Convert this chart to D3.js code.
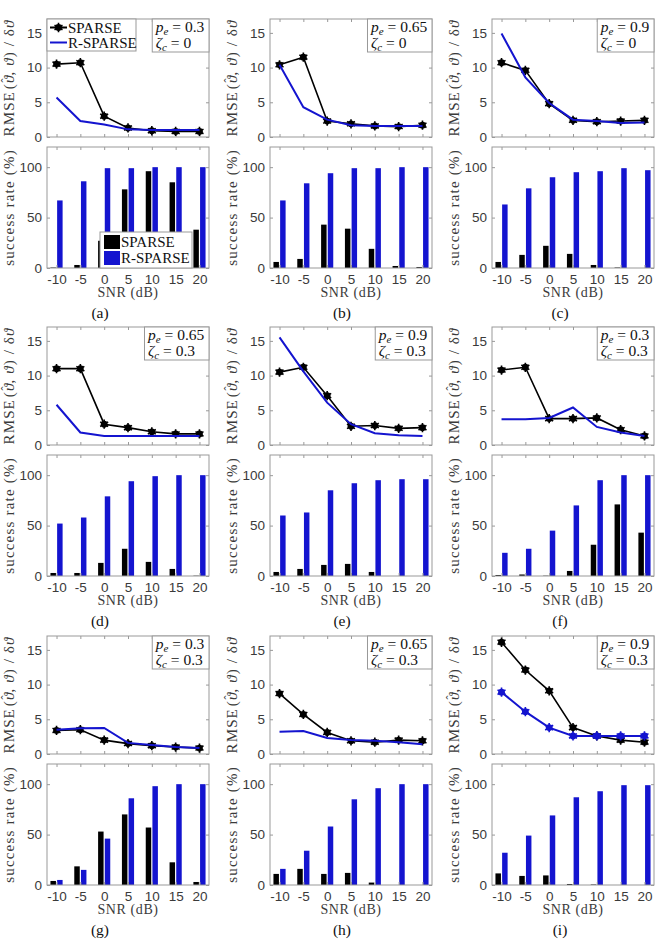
<!DOCTYPE html>
<html>
<head>
<meta charset="utf-8">
<script src="https://cdn.jsdelivr.net/npm/d3@7/dist/d3.min.js"></script>
<style>
  body { margin: 0; background: #fff; }
  svg { display: block; }
</style>
</head>
<body>
<svg id="chart"></svg>
<script>
// data
var snr = [-10, -5, 0, 5, 10, 15, 20];
var panelIds = ["a", "b", "c", "d", "e", "f", "g", "h", "i"];
var peValues = ["0.3", "0.65", "0.9", "0.65", "0.9", "0.3", "0.3", "0.65", "0.9"];
var zetaValues = ["0", "0", "0", "0.3", "0.3", "0.3", "0.3", "0.3", "0.3"];
var rmseTicks = [0, 5, 10, 15];
var rateTicks = [0, 50, 100];

var rmseSparse = [
  [10.5, 10.7, 3.0, 1.3, 0.9, 0.8, 0.8],
  [10.4, 11.5, 2.3, 1.9, 1.6, 1.5, 1.7],
  [10.7, 9.6, 4.8, 2.4, 2.2, 2.3, 2.4],
  [11.0, 11.0, 3.0, 2.5, 1.9, 1.6, 1.6],
  [10.5, 11.2, 7.1, 2.7, 2.8, 2.4, 2.5],
  [10.8, 11.2, 3.8, 3.8, 3.9, 2.2, 1.3],
  [3.4, 3.5, 2.0, 1.5, 1.2, 1.0, 0.85],
  [8.7, 5.7, 3.1, 1.9, 1.7, 2.0, 1.9],
  [16.1, 12.1, 9.1, 3.8, 2.6, 2.0, 1.7]
];
var rmseRSparse = [
  [5.7, 2.3, 1.8, 1.1, 1.0, 1.0, 1.0],
  [10.4, 4.3, 2.5, 1.7, 1.6, 1.6, 1.6],
  [14.9, 8.6, 4.9, 2.5, 2.3, 2.0, 2.1],
  [5.8, 1.8, 1.3, 1.3, 1.3, 1.3, 1.3],
  [15.5, 10.6, 6.1, 3.0, 1.7, 1.4, 1.3],
  [3.7, 3.7, 3.9, 5.4, 2.6, 1.8, 1.3],
  [3.5, 3.7, 3.75, 1.6, 1.3, 1.0, 0.85],
  [3.2, 3.3, 2.3, 2.0, 1.9, 1.7, 1.4],
  [8.9, 6.1, 3.8, 2.6, 2.6, 2.6, 2.6]
];
var rateSparse = [
  [0.5, 3, 27, 78, 96, 85, 38],
  [6, 9, 43, 39, 19, 2, 1],
  [6, 13, 22, 14, 3, 0.5, 0],
  [3, 3, 13, 27, 14, 7, 0.3],
  [4, 7, 11, 12, 4, 0, 0],
  [1, 1.5, 0.3, 5, 31, 71, 43],
  [4, 18.5, 53, 70, 57, 22.5, 3],
  [11, 16, 11, 12, 2.4, 0, 0],
  [11.5, 9, 9.5, 1, 0.5, 0, 0]
];
var rateRSparse = [
  [67, 86, 99, 99, 100, 100, 100],
  [67, 84, 94, 99, 99, 100, 100],
  [63, 79, 90, 95, 96, 99, 97],
  [52, 58, 79, 94, 99, 100, 100],
  [60, 63, 85, 92, 95, 96, 96],
  [23, 27, 45, 70, 95, 100, 100],
  [5, 15, 46, 86, 98, 100, 100],
  [16, 34, 58, 85, 96, 100, 100],
  [32, 49, 69, 87, 93, 99, 99]
];

// layout
var width = 663, height = 949;
var colLeft = [47, 270, 492], rowTop = [19, 327, 636];
var boxW = 162, lineH = 118, gapH = 10, barH = 121;
var captionX = [100, 342, 560];
var black = "#000", blue = "#1414cf", boxColor = "#999", textColor = "#3a3a3a";
var serif = "'Liberation Serif', 'DejaVu Serif', serif";
var sans = "'Liberation Sans', Arial, sans-serif";

var svg = d3.select("#chart").attr("width", width).attr("height", height);

function boxAxes(g, x, y, yTicks, showX) {
  var x0 = x.range()[0], x1 = x.range()[1];
  var y0 = y.range()[0], y1 = y.range()[1];
  g.append("g").attr("transform", "translate(" + x0 + ",0)")
    .call(d3.axisLeft(y).tickValues(yTicks).tickSize(-3).tickSizeOuter(0).tickPadding(5));
  g.append("g").attr("transform", "translate(" + x1 + ",0)")
    .call(d3.axisRight(y).tickValues(yTicks).tickSize(-3).tickSizeOuter(0).tickFormat(""));
  g.append("g").attr("transform", "translate(0," + y0 + ")")
    .call(d3.axisBottom(x).tickValues(snr).tickSize(-3).tickSizeOuter(0).tickPadding(6)
      .tickFormat(function(d) { return showX ? String(d) : ""; }));
  g.append("g").attr("transform", "translate(0," + y1 + ")")
    .call(d3.axisTop(x).tickValues(snr).tickSize(-3).tickSizeOuter(0).tickFormat(""));
  g.selectAll(".domain").remove();
  g.selectAll(".tick line").attr("stroke", boxColor);
  g.selectAll(".tick text").attr("fill", textColor).attr("font-family", sans).attr("font-size", 13.5);
  g.append("rect").attr("x", x0).attr("y", y1).attr("width", x1 - x0).attr("height", y0 - y1)
    .attr("fill", "none").attr("stroke", boxColor).attr("stroke-width", 1);
}

function marker(g, cx, cy, color) {
  var m = g.append("g").attr("transform", "translate(" + cx + "," + cy + ")");
  m.append("circle").attr("r", 3.4).attr("fill", color);
  m.append("path").attr("d", d3.symbol(d3.symbolAsterisk, 60)())
    .attr("stroke", color).attr("stroke-width", 1.6).attr("fill", "none");
}

panelIds.forEach(function(id, p) {
  var col = p % 3, row = Math.floor(p / 3);
  var left = colLeft[col], top = rowTop[row];
  var g = svg.append("g");

  var x = d3.scaleLinear().domain([-12, 22]).range([left, left + boxW]);
  var yL = d3.scaleLinear().domain([0, 17]).range([top + lineH, top]);
  var barTop = top + lineH + gapH;
  var yB = d3.scaleLinear().domain([0, 120]).range([barTop + barH, barTop]);

  // ---- RMSE line plot
  boxAxes(g, x, yL, rmseTicks, false);
  var line = d3.line().x(function(d, i) { return x(snr[i]); }).y(function(d) { return yL(d); });
  g.append("path").datum(rmseSparse[p]).attr("d", line)
    .attr("fill", "none").attr("stroke", black).attr("stroke-width", 1.6);
  rmseSparse[p].forEach(function(v, i) { marker(g, x(snr[i]), yL(v), black); });
  g.append("path").datum(rmseRSparse[p]).attr("d", line)
    .attr("fill", "none").attr("stroke", blue).attr("stroke-width", 2);
  if (id === "i") {
    rmseRSparse[p].forEach(function(v, i) { marker(g, x(snr[i]), yL(v), blue); });
  }

  g.append("text")
    .attr("transform", "translate(" + (left - 33) + "," + (top + lineH / 2) + ") rotate(-90)")
    .attr("text-anchor", "middle").attr("font-family", serif).attr("font-size", 15)
    .attr("letter-spacing", 1.1).attr("fill", textColor)
    .call(function(t) {
      t.append("tspan").text("RMSE");
      t.append("tspan").attr("dx", 2).text("(");
      t.append("tspan").attr("font-style", "italic").text("\u03D1");
      t.append("tspan").attr("dx", -8).attr("dy", -4).attr("font-size", 12).text("\u02C6");
      t.append("tspan").attr("dx", 2).attr("dy", 4).text(", ");
      t.append("tspan").attr("font-style", "italic").text("\u03D1");
      t.append("tspan").text(") / \u03B4");
      t.append("tspan").attr("font-style", "italic").text("\u03D1");
    });

  // parameter box
  var ann = g.append("g");
  var annText = ann.append("text").attr("font-family", serif).attr("font-size", 15.5).attr("fill", "#111");
  var l1 = annText.append("tspan").attr("x", 0).attr("y", 13);
  l1.append("tspan").attr("font-style", "italic").text("p");
  l1.append("tspan").attr("font-style", "italic").attr("font-size", 11).attr("dy", 3).text("e");
  l1.append("tspan").attr("dy", -3).text(" = " + peValues[p]);
  var l2 = annText.append("tspan").attr("x", 0).attr("y", 29);
  l2.append("tspan").attr("font-style", "italic").text("\u03B6");
  l2.append("tspan").attr("font-style", "italic").attr("font-size", 11).attr("dy", 3).text("c");
  l2.append("tspan").attr("dy", -3).text(" = " + zetaValues[p]);
  var bb = annText.node().getBBox();
  var aw = bb.width + 7;
  ann.attr("transform", "translate(" + (left + boxW - aw) + "," + top + ")");
  ann.insert("rect", "text").attr("x", 0).attr("y", 0).attr("width", aw).attr("height", 33)
    .attr("fill", "#fff").attr("stroke", boxColor);
  annText.attr("transform", "translate(3.5,0)");

  // ---- success-rate bars
  var bw = x(1.15) - x(0);
  g.selectAll(".barS").data(rateSparse[p]).enter().append("rect")
    .attr("x", function(d, i) { return x(snr[i] - 0.7) - bw / 2; })
    .attr("y", function(d) { return yB(d); })
    .attr("width", bw).attr("height", function(d) { return yB(0) - yB(d); })
    .attr("fill", black);
  g.selectAll(".barR").data(rateRSparse[p]).enter().append("rect")
    .attr("x", function(d, i) { return x(snr[i] + 0.7) - bw / 2; })
    .attr("y", function(d) { return yB(d); })
    .attr("width", bw).attr("height", function(d) { return yB(0) - yB(d); })
    .attr("fill", blue);
  boxAxes(g, x, yB, rateTicks, true);

  g.append("text")
    .attr("transform", "translate(" + (left - 33) + "," + (barTop + barH / 2) + ") rotate(-90)")
    .attr("text-anchor", "middle").attr("font-family", serif).attr("font-size", 15)
    .attr("letter-spacing", 1.2).attr("fill", textColor).text("success rate (%)");
  g.append("text").attr("x", left + boxW / 2).attr("y", barTop + barH + 29)
    .attr("text-anchor", "middle").attr("font-family", serif).attr("font-size", 14)
    .attr("letter-spacing", 0.6).attr("fill", textColor).text("SNR (dB)");
  g.append("text").attr("x", captionX[col]).attr("y", barTop + barH + 50)
    .attr("text-anchor", "middle").attr("font-family", serif).attr("font-size", 15.5)
    .attr("fill", "#111").text("(" + id + ")");

  // legends only in panel (a)
  if (id === "a") {
    var lg = g.append("g").attr("transform", "translate(" + left + "," + top + ")");
    lg.append("rect").attr("width", 89).attr("height", 32).attr("fill", "#fff").attr("stroke", boxColor);
    [["SPARSE", black], ["R-SPARSE", blue]].forEach(function(e, k) {
      var yy = 8.5 + k * 15;
      lg.append("line").attr("x1", 3).attr("x2", 20).attr("y1", yy).attr("y2", yy)
        .attr("stroke", e[1]).attr("stroke-width", 2);
      if (k === 0) marker(lg, 11.5, yy, black);
      lg.append("text").attr("x", 21).attr("y", yy + 5).attr("font-family", serif)
        .attr("font-size", 15).attr("fill", "#111").text(e[0]);
    });

    var bl = g.append("g").attr("transform", "translate(" + (left + 53) + "," + (barTop + barH - 36) + ")");
    bl.append("rect").attr("width", 92).attr("height", 36).attr("fill", "#fff").attr("stroke", boxColor);
    [["SPARSE", black], ["R-SPARSE", blue]].forEach(function(e, k) {
      bl.append("rect").attr("x", 4).attr("y", 3 + k * 16).attr("width", 16).attr("height", 14).attr("fill", e[1]);
      bl.append("text").attr("x", 21).attr("y", 15 + k * 16).attr("font-family", serif)
        .attr("font-size", 15).attr("fill", "#111").text(e[0]);
    });
  }
});
</script>
</body>
</html>
